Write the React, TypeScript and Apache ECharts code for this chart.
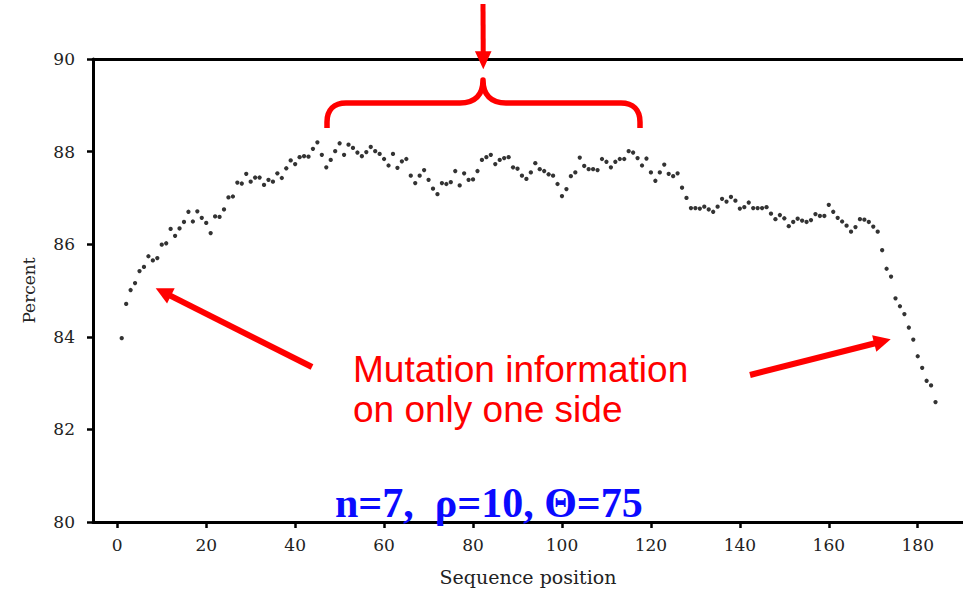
import React, { useEffect, useRef } from "react";
import * as echarts from "echarts";

// Sequence positions 1..184 and the percent value at each
const percent = [
  83.97, 84.71, 85.01, 85.16, 85.42, 85.51, 85.74, 85.65, 85.7, 85.99,
  86.02, 86.33, 86.18, 86.34, 86.48, 86.7, 86.49, 86.71, 86.57, 86.46,
  86.24, 86.6, 86.59, 86.75, 87.01, 87.03, 87.33, 87.31, 87.52, 87.35,
  87.44, 87.44, 87.28, 87.39, 87.35, 87.53, 87.43, 87.64, 87.81, 87.73,
  87.88, 87.9, 87.89, 88.06, 88.2, 87.93, 87.66, 87.82, 88.01, 88.18,
  87.93, 88.15, 88.08, 87.98, 87.9, 87.99, 88.1, 88.01, 87.95, 87.84,
  87.7, 87.95, 87.65, 87.79, 87.84, 87.48, 87.32, 87.48, 87.6, 87.39,
  87.2, 87.08, 87.32, 87.3, 87.34, 87.58, 87.27, 87.53, 87.39, 87.4,
  87.58, 87.82, 87.88, 87.93, 87.73, 87.82, 87.86, 87.88, 87.66, 87.63,
  87.48, 87.41, 87.55, 87.75, 87.62, 87.58, 87.51, 87.48, 87.3, 87.04,
  87.19, 87.47, 87.55, 87.87, 87.69, 87.62, 87.62, 87.6, 87.84, 87.78,
  87.66, 87.78, 87.84, 87.84, 88.01, 87.98, 87.86, 87.7, 87.85, 87.55,
  87.37, 87.55, 87.72, 87.52, 87.47, 87.53, 87.22, 87.0, 86.78, 86.78,
  86.77, 86.81, 86.75, 86.7, 86.81, 86.98, 86.92, 87.02, 86.94, 86.77,
  86.8, 86.9, 86.78, 86.78, 86.78, 86.8, 86.66, 86.54, 86.63, 86.56,
  86.39, 86.48, 86.55, 86.51, 86.48, 86.52, 86.65, 86.61, 86.61, 86.85,
  86.7, 86.57, 86.49, 86.4, 86.27, 86.37, 86.54, 86.53, 86.48, 86.38,
  86.27, 85.87, 85.47, 85.3, 84.83, 84.66, 84.49, 84.2, 83.94, 83.58,
  83.33, 83.05, 82.95, 82.59,
];
const positions = percent.map((_, i) => i + 1);

const xTicks = [0, 20, 40, 60, 80, 100, 120, 140, 160, 180];
const xMin = -5.46;
const xMax = 190.18;
const yMin = 80;
const yMax = 90;
const yStep = 2;

const noteLines = ["Mutation information", "on only one side"];
const paramText = "n=7,  \u03C1=10, \u0398=75";

const RED = "#ff0000";
const BLUE = "#0a0aff";
const SERIF = "'DejaVu Serif', serif";

const braceD =
  "M327,128 L327,122 C327,110 334,103 346,103 L460,103 C475,103 483,95 483,80 C483,95 491,103 506,103 L621,103 C633,103 640,110 640,122 L640,128";

let registered = false;
function ensureShape() {
  if (registered) return;
  echarts.graphic.registerShape("brace", echarts.graphic.extendPath(braceD, {}));
  registered = true;
}

function arrowEls(tail: number[], tip: number[], w: number, hl: number, hw: number) {
  const dx = tip[0] - tail[0];
  const dy = tip[1] - tail[1];
  const len = Math.hypot(dx, dy);
  const ux = dx / len;
  const uy = dy / len;
  const bx = tip[0] - ux * hl;
  const by = tip[1] - uy * hl;
  const px = -uy;
  const py = ux;
  return [
    {
      type: "line",
      z: 100,
      silent: true,
      shape: { x1: tail[0], y1: tail[1], x2: bx + ux * 3, y2: by + uy * 3 },
      style: { stroke: RED, lineWidth: w },
    },
    {
      type: "polygon",
      z: 100,
      silent: true,
      shape: {
        points: [
          [tip[0], tip[1]],
          [bx + px * hw, by + py * hw],
          [bx - px * hw, by - py * hw],
        ],
      },
      style: { fill: RED },
    },
  ];
}

export default function App() {
  const ref = useRef<HTMLDivElement>(null);

  useEffect(() => {
    if (!ref.current) return;
    ensureShape();
    const chart = echarts.init(ref.current, undefined, { renderer: "svg" });

    const axisLine = { show: true, onZero: false, lineStyle: { color: "#000", width: 3 } };

    chart.setOption({
      animation: false,
      backgroundColor: "#fff",
      grid: { left: 93, right: 0, top: 59, bottom: 71, containLabel: false },
      xAxis: [
        {
          type: "value",
          position: "bottom",
          min: xMin,
          max: xMax,
          axisLine,
          axisTick: {
            show: true,
            customValues: xTicks,
            length: 6,
            lineStyle: { color: "#000", width: 2.5 },
          },
          axisLabel: {
            customValues: xTicks,
            fontFamily: SERIF,
            fontSize: 17,
            color: "#222",
            margin: 14,
          },
          splitLine: { show: false },
          name: "Sequence position",
          nameLocation: "middle",
          nameGap: 45,
          nameTextStyle: { fontFamily: SERIF, fontSize: 19, color: "#222" },
        },
        {
          type: "value",
          position: "top",
          min: xMin,
          max: xMax,
          axisLine,
          axisTick: { show: false },
          axisLabel: { show: false },
          splitLine: { show: false },
        },
      ],
      yAxis: {
        type: "value",
        min: yMin,
        max: yMax,
        interval: yStep,
        axisLine,
        axisTick: { show: true, length: 6, lineStyle: { color: "#000", width: 2.5 } },
        axisLabel: { fontFamily: SERIF, fontSize: 17, color: "#222", margin: 18 },
        splitLine: { show: false },
        name: "Percent",
        nameLocation: "middle",
        nameGap: 56,
        nameTextStyle: { fontFamily: SERIF, fontSize: 17, color: "#222" },
      },
      series: [
        {
          type: "scatter",
          silent: true,
          symbol: "circle",
          symbolSize: 4.3,
          itemStyle: { color: "#000" },
          data: positions.map((p, i) => [p, percent[i]]),
        },
      ],
      graphic: [
        {
          type: "brace",
          x: 0,
          y: 0,
          z: 100,
          silent: true,
          style: { stroke: RED, fill: "none", lineWidth: 5.5, lineJoin: "round", lineCap: "butt" },
        },
        ...arrowEls([483, 4], [483.3, 69.3], 5, 18, 8.3),
        ...arrowEls([312, 367], [155.7, 288.3], 6, 17, 8.5),
        ...arrowEls([750, 375], [890.7, 339.3], 6, 17, 8.5),
        {
          type: "text",
          z: 100,
          silent: true,
          style: {
            text: noteLines[0],
            x: 353,
            y: 369,
            fill: RED,
            font: "37px 'Liberation Sans', Arial, sans-serif",
            verticalAlign: "middle",
            align: "left",
          },
        },
        {
          type: "text",
          z: 100,
          silent: true,
          style: {
            text: noteLines[1],
            x: 353,
            y: 409,
            fill: RED,
            font: "37px 'Liberation Sans', Arial, sans-serif",
            verticalAlign: "middle",
            align: "left",
          },
        },
        {
          type: "text",
          z: 110,
          silent: true,
          style: {
            text: paramText,
            x: 335,
            y: 502.5,
            fill: BLUE,
            font: "bold 42px 'Liberation Serif', 'Times New Roman', serif",
            verticalAlign: "middle",
            align: "left",
          },
        },
      ],
    });

    return () => chart.dispose();
  }, []);

  return (
    <div
      ref={ref}
      style={{ position: "absolute", left: 0, top: 0, width: 963, height: 593 }}
    />
  );
}
